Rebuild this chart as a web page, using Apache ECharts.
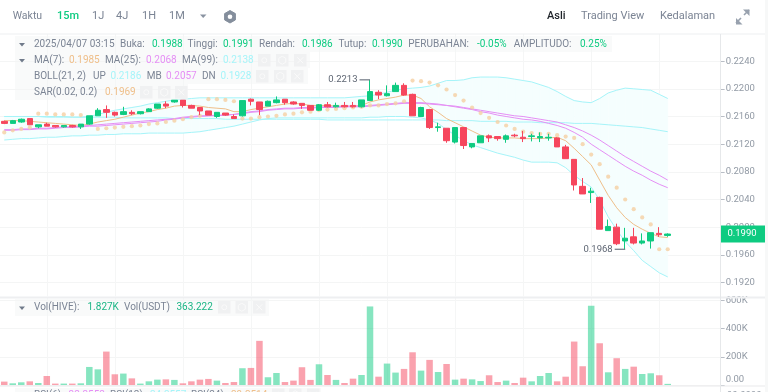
<!DOCTYPE html>
<html><head><meta charset="utf-8">
<style>html,body{margin:0;padding:0;background:#fff;overflow:hidden}#c{width:768px;height:392px}</style>
<script src="https://cdn.jsdelivr.net/npm/echarts@6/dist/echarts.min.js"></script>
</head><body><div id="c"></div>
<script>
const opens=[.2153,.2150,.2152,.2157,.2145,.2149,.2147,.2145,.2147,.2145,
.2149,.2161,.2170,.2166,.2163,.2166,.2164,.2167,.2172,.2178,
.2181,.2184,.2176,.2173,.2168,.2160,.2165,.2160,.2161,.2185,
.2181,.2175,.2180,.2185,.2181,.2179,.2176,.2169,.2177,.2174,
.2176,.2176,.2174,.2183,.2195,.2190,.2196,.2205,.2192,.2160,
.2170,.2144,.2143,.2123,.2144,.2116,.2122,.2132,.2131,.2127,
.2133,.2130,.2131,.2129,.2129,.2129,.2116,.2098,.2059,.2050,
.2043,.1995,.2000,.1980,.1986,.1977,.1980,.1991,.1988];
const closes=[.2150,.2154,.2156,.2148,.2148,.2146,.2145,.2147,.2145,.2149,
.2161,.2169,.2166,.2162,.2167,.2164,.2167,.2171,.2178,.2175,
.2184,.2176,.2172,.2168,.2162,.2166,.2162,.2157,.2183,.2182,
.2170,.2182,.2184,.2180,.2178,.2176,.2169,.2177,.2174,.2176,
.2174,.2174,.2184,.2196,.2191,.2193,.2205,.2191,.2161,.2173,
.2144,.2145,.2125,.2144,.2118,.2121,.2132,.2129,.2128,.2132,
.2132,.2128,.2132,.2131,.2130,.2116,.2099,.2061,.2048,.2052,
.1997,.2001,.1976,.1984,.1977,.1980,.1992,.1989,.1990];
const lows=[.2149,.2150,.2151,.2148,.2143,.2146,.2144,.2144,.2144,.2142,
.2148,.2161,.2158,.2160,.2162,.2162,.2163,.2167,.2171,.2172,
.2180,.2173,.2172,.2162,.2162,.2158,.2161,.2157,.2160,.2176,
.2162,.2175,.2179,.2177,.2177,.2171,.2169,.2168,.2173,.2173,
.2173,.2173,.2173,.2183,.2185,.2189,.2196,.2190,.2161,.2160,
.2142,.2138,.2122,.2121,.2113,.2114,.2122,.2123,.2125,.2122,
.2130,.2123,.2124,.2123,.2125,.2116,.2099,.2053,.2048,.2035,
.1997,.1995,.1974,.1968,.1975,.1975,.1969,.1986,.1986];
const highs=[.2154,.2155,.2157,.2157,.2148,.2151,.2147,.2147,.2148,.2149,
.2161,.2172,.2176,.2167,.2174,.2169,.2167,.2172,.2178,.2182,
.2184,.2184,.2177,.2173,.2168,.2166,.2165,.2163,.2183,.2186,
.2181,.2183,.2189,.2185,.2182,.2179,.2176,.2178,.2181,.2180,
.2181,.2181,.2184,.2213,.2198,.2205,.2209,.2208,.2193,.2174,
.2171,.2151,.2143,.2144,.2144,.2121,.2132,.2134,.2131,.2134,
.2135,.2139,.2135,.2137,.2135,.2130,.2119,.2098,.2071,.2057,
.2044,.2011,.2005,.1999,.1999,.1991,.1992,.2000,.1991];
const ma7=[.2154,.2154,.2154,.2153,.2152,.2151,.2150,.2149,.2148,.2147,
.2149,.2152,.2154,.2156,.2159,.2162,.2165,.2167,.2170,.2172,
.2175,.2176,.2176,.2175,.2173,.2172,.2171,.2167,.2167,.2170,
.2172,.2174,.2176,.2178,.2179,.2178,.2176,.2176,.2176,.2175,
.2175,.2175,.2176,.2181,.2184,.2186,.2188,.2191,.2191,.2186,
.2174,.2166,.2157,.2151,.2145,.2139,.2133,.2130,.2129,.2129,
.2129,.2128,.2128,.2128,.2129,.2130,.2125,.2114,.2102,.2090,
.2068,.2046,.2028,.2014,.2004,.1997,.1991,.1986,.1985];
const ma25=[.2141,.2141,.2142,.2142,.2143,.2143,.2144,.2145,.2145,.2146,
.2147,.2148,.2149,.2150,.2151,.2152,.2153,.2154,.2155,.2156,
.2157,.2159,.2160,.2161,.2161,.2162,.2162,.2163,.2165,.2167,
.2168,.2170,.2171,.2172,.2172,.2173,.2173,.2174,.2174,.2174,
.2175,.2175,.2175,.2176,.2177,.2178,.2179,.2180,.2180,.2180,
.2179,.2178,.2176,.2175,.2173,.2171,.2169,.2167,.2165,.2163,
.2161,.2160,.2158,.2156,.2154,.2152,.2148,.2144,.2139,.2133,
.2126,.2118,.2110,.2102,.2095,.2088,.2081,.2075,.2068];
const ma99=[.2160,.2160,.2160,.2160,.2160,.2160,.2160,.2160,.2159,.2159,
.2159,.2159,.2159,.2159,.2158,.2158,.2158,.2158,.2158,.2158,
.2157,.2157,.2157,.2157,.2157,.2157,.2156,.2156,.2156,.2156,
.2156,.2156,.2156,.2156,.2156,.2156,.2156,.2156,.2155,.2155,
.2155,.2155,.2155,.2155,.2155,.2155,.2155,.2155,.2155,.2155,
.2155,.2155,.2154,.2154,.2154,.2154,.2153,.2153,.2153,.2153,
.2152,.2152,.2152,.2151,.2151,.2151,.2151,.2150,.2150,.2150,
.2149,.2148,.2147,.2146,.2145,.2144,.2142,.2140,.2138];
const bollUp=[.2160,.2160,.2160,.2160,.2160,.2159,.2159,.2159,.2159,.2159,
.2160,.2163,.2166,.2169,.2171,.2173,.2175,.2178,.2180,.2182,
.2184,.2185,.2186,.2187,.2187,.2187,.2187,.2187,.2187,.2187,
.2187,.2187,.2187,.2187,.2187,.2187,.2187,.2187,.2187,.2187,
.2187,.2188,.2189,.2190,.2192,.2195,.2198,.2200,.2201,.2202,
.2204,.2208,.2212,.2212,.2213,.2216,.2217,.2217,.2217,.2216,
.2214,.2212,.2210,.2206,.2202,.2196,.2189,.2183,.2181,.2180,
.2186,.2194,.2198,.2201,.2200,.2199,.2198,.2192,.2186];
const bollMb=[.2140,.2140,.2141,.2141,.2142,.2142,.2143,.2144,.2144,.2145,
.2146,.2146,.2147,.2148,.2149,.2150,.2151,.2152,.2153,.2155,
.2156,.2158,.2159,.2160,.2161,.2161,.2162,.2163,.2164,.2166,
.2167,.2169,.2170,.2171,.2171,.2172,.2172,.2173,.2173,.2173,
.2174,.2174,.2174,.2175,.2176,.2177,.2178,.2179,.2179,.2179,
.2178,.2177,.2176,.2174,.2172,.2170,.2167,.2165,.2162,.2160,
.2158,.2156,.2155,.2153,.2150,.2147,.2143,.2137,.2130,.2120,
.2112,.2104,.2096,.2088,.2081,.2075,.2068,.2062,.2057];
const bollDn=[.2126,.2127,.2128,.2128,.2129,.2130,.2130,.2131,.2132,.2132,
.2133,.2133,.2134,.2134,.2135,.2135,.2135,.2136,.2136,.2136,
.2136,.2136,.2137,.2138,.2140,.2142,.2144,.2146,.2149,.2152,
.2155,.2157,.2158,.2158,.2158,.2158,.2158,.2158,.2158,.2158,
.2158,.2158,.2158,.2159,.2159,.2160,.2160,.2160,.2159,.2158,
.2155,.2150,.2141,.2133,.2125,.2119,.2115,.2111,.2107,.2104,
.2101,.2097,.2094,.2094,.2094,.2093,.2086,.2075,.2066,.2058,
.2039,.2015,.1996,.1979,.1966,.1952,.1943,.1934,.1928];
const sar=[.2137,.2140,.2142,.2144,.2164,.2164,.2163,.2163,.2163,.2162,
null,.2142,.2143,.2144,.2145,.2146,.2147,.2149,.2150,.2152,
.2154,.2156,.2159,.2161,.2185,.2185,.2184,.2182,.2157,.2157,
.2159,.2160,.2161,.2163,.2164,.2166,.2167,.2169,.2170,.2171,
.2172,.2173,.2174,.2176,.2176,.2178,.2179,.2182,.2212,.2211,
.2209,.2205,.2199,.2191,.2183,.2173,.2165,.2158,.2152,.2147,
.2142,.2138,.2136,.2135,.2135,.2133,.2131,.2129,.2120,.2105,
.2091,.2073,.2057,.2040,.2026,.2014,.2004,.1968,.1968];
const volumeK=[24,12,19,26,14,64,10,10,10,12,
128,111,237,76,81,47,10,26,38,40,
36,12,26,38,43,31,14,21,119,121,
313,55,85,21,31,126,36,147,71,36,
14,45,71,557,59,152,88,114,232,102,
178,92,149,38,45,40,28,69,21,31,
14,52,26,64,85,26,59,308,133,562,
296,90,190,114,130,78,83,69,8];
const priceTicks=[.224,.22,.216,.212,.208,.204,.2,.196,.192];
const volumeTicks=[0,200,400,600];
const extremes=[[43,.2213,'0.2213'],[73,.1968,'0.1968']];
const lastPrice=[[78,.1990,'0.1990']];
const blankSlots=6;

const GREEN='#0ecb81',RED='#f6465d',TAN='#efbf8a',PINK='#e58ff5',CYAN='#a6f4f9';
const GREY='#7b8494',FONT='Roboto, "Noto Sans", sans-serif';
const n=opens.length, total=n+blankSlots, band=8.55, gridLeft=-3.725;
const categories=Array.from({length:total},(_,i)=>String(i));
const candles=opens.map((o,i)=>[o,closes[i],lows[i],highs[i]]);
const fit=(a)=>a.map((v,i)=>[i,v]);
const lineS=(name,data,color)=>({name,type:'line',data,showSymbol:false,symbol:'none',z:4,
  lineStyle:{color,width:1},itemStyle:{color},xAxisIndex:0,yAxisIndex:0,silent:true,animation:false});

const g=[];
const txt=(x,y,s,fill,size=10,weight=400,align='left')=>g.push({type:'text',x,y,z:50,silent:true,
  style:{text:s,fill,font:`${weight} ${size}px ${FONT}`,textAlign:align,textVerticalAlign:'middle'}});
const rect=(x,y,w,h,fill,z=40,r=0)=>g.push({type:'rect',z,silent:true,shape:{x,y,width:w,height:h,r},style:{fill}});
const caret=(x,y)=>g.push({type:'polygon',z:50,silent:true,shape:{points:[[x-3,y-2],[x+3,y-2],[x,y+1.5]]},style:{fill:'#707a8a'}});
const icons=(xs,y)=>{xs.forEach((x,k)=>{
  rect(x,y,12.5,12.5,'#f0f1f2',45);
  const cx=x+6.25,cy=y+6.25,st={stroke:'#fafafa',fill:'none',lineWidth:1};
  if(k==0)g.push({type:'circle',z:46,silent:true,shape:{cx,cy,r:2.5},style:st});
  if(k==1)g.push({type:'polygon',z:46,silent:true,shape:{points:[[cx,cy-4],[cx+3.5,cy-2],[cx+3.5,cy+2],[cx,cy+4],[cx-3.5,cy+2],[cx-3.5,cy-2]]},style:st});
  if(k==2){g.push({type:'line',z:46,silent:true,shape:{x1:cx-3,y1:cy-3,x2:cx+3,y2:cy+3},style:st});
    g.push({type:'line',z:46,silent:true,shape:{x1:cx+3,y1:cy-3,x2:cx-3,y2:cy+3},style:st});}
});};
rect(0,0,768,34,'#fff',30);
rect(0,33.5,765,1,'#eeeff1',31);
txt(12.7,16.5,'Waktu',GREY,10.5);
txt(57,16.5,'15m',GREEN,11,500);
[['1J',92],['4J',116],['1H',142],['1M',169]].forEach(([s,x])=>txt(x,16.5,s,GREY,11));
g.push({type:'polygon',z:50,silent:true,shape:{points:[[200,14.5],[206.5,14.5],[203.2,18]]},style:{fill:'#8a93a1'}});
g.push({type:'polygon',z:50,silent:true,shape:{points:[[230,10.5],[235.4,13.6],[235.4,19.9],[230,23],[224.6,19.9],[224.6,13.6]]},style:{fill:'#848e9c',stroke:'#848e9c',lineWidth:1,lineJoin:'round'}});
g.push({type:'circle',z:51,silent:true,shape:{cx:230,cy:16.8,r:2.3},style:{fill:'#fff'}});
txt(547,16.5,'Asli','#1e2329',11,500);
txt(581,16.5,'Trading View',GREY,11);
txt(660,16.5,'Kedalaman',GREY,11);
[[736,23,741,18],[744,15,749,10]].forEach(([a,b,c,d])=>g.push({type:'line',z:50,silent:true,shape:{x1:a,y1:b,x2:c,y2:d},style:{stroke:'#98a1ae',lineWidth:1.6}}));
g.push({type:'polygon',z:50,silent:true,shape:{points:[[736,18],[736,24.5],[742.5,24.5]]},style:{fill:'#98a1ae'}});
g.push({type:'polygon',z:50,silent:true,shape:{points:[[749.5,16],[749.5,9.5],[743,9.5]]},style:{fill:'#98a1ae'}});
const bg='rgba(244,245,246,0.5)';
rect(15,36,597,16,bg);rect(15,52,295,16,bg);rect(15,68,293,16,bg);rect(15,84,173,16,bg);
rect(15,299,254,17,bg);rect(15,388,306,4,bg);
caret(22,45);caret(22,61);caret(22,308.5);
const row=(y,items)=>items.forEach(([x,s,c])=>txt(x,y,s,c));
row(44.5,[[34,'2025/04/07 03:15',GREY],[120,'Buka:',GREY],[152,'0.1988',GREEN],[187.6,'Tinggi:',GREY],[223,'0.1991',GREEN],
 [259,'Rendah:',GREY],[302,'0.1986',GREEN],[338.5,'Tutup:',GREY],[372,'0.1990',GREEN],[408.3,'PERUBAHAN:',GREY],[477,'-0.05%',GREEN],
 [513.7,'AMPLITUDO:',GREY],[580,'0.25%',GREEN]]);
row(60.5,[[34,'MA(7):',GREY],[69,'0.1985',TAN],[105,'MA(25):',GREY],[146,'0.2068',PINK],[182,'MA(99):',GREY],[223,'0.2138',CYAN]]);
icons([258,276,294],54);
row(76.5,[[34,'BOLL(21, 2)',GREY],[93,'UP',GREY],[110.6,'0.2186',CYAN],[146.7,'MB',GREY],[166,'0.2057',PINK],[202,'DN',GREY],[220.6,'0.1928',CYAN]]);
icons([256,274,291],70);
row(92.5,[[34,'SAR(0.02, 0.2)',GREY],[105,'0.1969',TAN]]);
icons([140,158,175],86);
row(307.5,[[34,'Vol(HIVE):',GREY],[87.5,'1.827K','#1bb585'],[124,'Vol(USDT)',GREY],[176.5,'363.222','#1bb585']]);
icons([218,235.5,253],301);
row(395,[[34,'RSI(6):',GREY],[68.6,'32.3552',PINK],[110,'RSI(12):',GREY],[150,'34.3557',CYAN],[191,'RSI(24):',GREY],[231,'39.3514',TAN]]);
icons([272,289,307],388.5);
txt(727,395.5,'90.0000','#929aa5',9.5);
rect(0,296.5,765,2,'#eeeff1',31);
rect(0,385.5,765,1,'#e9eaec',31);
rect(765,0,3,392,'#f7f8f8',60);
g.push({type:'line',z:31,silent:true,shape:{x1:720.5,y1:34,x2:720.5,y2:392},style:{stroke:'#e6e8ea',lineWidth:1}});

const splitX={show:true,alignWithLabel:true,interval:(i)=>(i-5)%8===0,lineStyle:{color:'#f5f6f6',width:1}};
const splitY={show:true,lineStyle:{color:'#f4f5f5',width:1}};
const axisX=(gridIndex)=>({type:'category',gridIndex,data:categories,boundaryGap:true,
  axisLine:{show:false},axisTick:{show:false},axisLabel:{show:false},splitLine:splitX});
const labelStyle={color:'#929aa5',fontSize:9.5,fontFamily:FONT,margin:2};
labelStyle.margin=5;

const option={animation:false,backgroundColor:'#fff',
 grid:[{left:gridLeft,width:band*total,top:33.5,height:262.8},
       {left:gridLeft,width:band*total,top:298,height:87}],
 xAxis:[axisX(0),axisX(1)],
 yAxis:[{type:'value',gridIndex:0,position:'right',offset:-2.4,min:.19,max:.228,
   axisLine:{show:false},
   axisTick:{show:true,length:4,customValues:priceTicks,lineStyle:{color:'#b9bec6'}},
   axisLabel:{...labelStyle,customValues:priceTicks,formatter:v=>Number(v).toFixed(4)},splitLine:splitY},
  {type:'value',gridIndex:1,position:'right',offset:-2.4,min:0,max:617,
   axisLine:{show:false},
   axisTick:{show:true,length:4,customValues:volumeTicks,lineStyle:{color:'#b9bec6'}},
   axisLabel:{...labelStyle,customValues:volumeTicks,verticalAlignMinLabel:'bottom',
     formatter:v=>Number(v)===0?'0.00':v+'K'},splitLine:splitY}],
 graphic:g,
 series:[
  {type:'custom',name:'BOLL band',xAxisIndex:0,yAxisIndex:0,z:1,silent:true,clip:true,
   data:bollUp.map((u,i)=>[i,u,bollDn[i]]),
   encode:{x:0,y:[1,2]},
   renderItem:(p,api)=>{const i=api.value(0);if(i>=n-1)return;
     const a=api.coord([i,api.value(1)]),b=api.coord([i,api.value(2)]);
     const c=api.coord([i+1,bollUp[i+1]]),d=api.coord([i+1,bollDn[i+1]]);
     return {type:'polygon',shape:{points:[a,c,d,b]},style:{fill:'#f5fefe',stroke:'#f5fefe',lineWidth:.5}};}},
  lineS('MA99',fit(ma99),CYAN),
  lineS('BOLL UP',fit(bollUp),CYAN),
  lineS('BOLL DN',fit(bollDn),CYAN),
  lineS('MA7',fit(ma7),TAN),
  lineS('MA25',fit(ma25),PINK),
  lineS('BOLL MB',fit(bollMb),PINK),
  {type:'scatter',name:'SAR',xAxisIndex:0,yAxisIndex:0,z:5,symbolSize:4.2,silent:true,
   data:sar.map((v,i)=>v===null?null:[i,v]).filter(Boolean),itemStyle:{color:'#f5cfa2'}},
  {type:'candlestick',name:'Price',xAxisIndex:0,yAxisIndex:0,z:6,barWidth:6,silent:true,
   data:candles,itemStyle:{color:GREEN,color0:RED,borderColor:GREEN,borderColor0:RED,borderColorDoji:GREEN,borderWidth:1}},
  {type:'bar',name:'Volume',xAxisIndex:1,yAxisIndex:1,barWidth:6.5,silent:true,
   data:volumeK.map((v,i)=>({value:v,itemStyle:{color:closes[i]>=opens[i]?'rgba(14,203,129,.5)':'rgba(246,70,93,.5)'}}))},
  {type:'custom',name:'High/Low',xAxisIndex:0,yAxisIndex:0,z:8,silent:true,clip:false,
   data:extremes,
   renderItem:(p,api)=>{const c=api.coord([api.value(0),api.value(1)]);const x=c[0],y=c[1];
     const label=extremes[p.dataIndex][2];
     return {type:'group',children:[
       {type:'line',shape:{x1:x-10.5,y1:y,x2:x,y2:y},style:{stroke:'#6f7783',lineWidth:1.2}},
       {type:'text',style:{x:x-12.5,y,text:label,textAlign:'right',textVerticalAlign:'middle',fill:'#5e6673',font:`9.5px ${FONT}`}}]};}},
  {type:'custom',name:'Last price',xAxisIndex:0,yAxisIndex:0,z:20,silent:true,clip:false,
   data:lastPrice,
   renderItem:(p,api)=>{const y=api.coord([api.value(0),api.value(1)])[1];
     return {type:'group',children:[
       {type:'rect',shape:{x:720.7,y:y-8.5,width:44.3,height:17,r:0},style:{fill:GREEN}},
       {type:'text',style:{x:742,y,text:lastPrice[p.dataIndex][2],textAlign:'center',textVerticalAlign:'middle',fill:'#fff',font:`9.5px ${FONT}`}}]};}}
 ]};
echarts.init(document.getElementById('c'),null,{renderer:'canvas'}).setOption(option);
</script></body></html>
